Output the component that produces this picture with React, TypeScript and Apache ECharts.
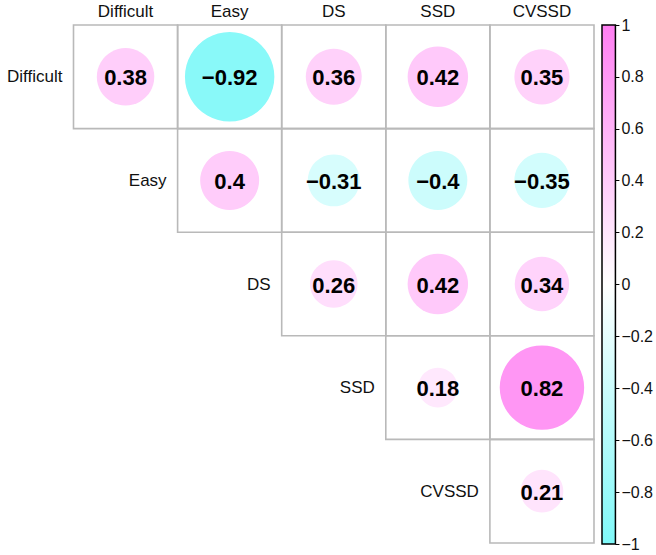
import React, { useEffect, useRef } from "react";
import * as echarts from "echarts";

const columns = ["Difficult", "Easy", "DS", "SSD", "CVSSD"];
const rows = ["Difficult", "Easy", "DS", "SSD", "CVSSD"];
// [column index, row index, correlation]
const corrValues: [number, number, number][] = [
  [0, 0, 0.38], [1, 0, -0.92], [2, 0, 0.36], [3, 0, 0.42], [4, 0, 0.35],
  [1, 1, 0.4], [2, 1, -0.31], [3, 1, -0.4], [4, 1, -0.35],
  [2, 2, 0.26], [3, 2, 0.42], [4, 2, 0.34],
  [3, 3, 0.18], [4, 3, 0.82],
  [4, 4, 0.21],
];
const colorStops = ["#7ff8f8", "#ffffff", "#ff7ff2"];
const legendRange = [-1, 1];

const FONT = "'Liberation Sans', Arial, Helvetica, sans-serif";
const fmt = (v: number) => {
  const r = Math.round(v * 100) / 100;
  return String(r).replace("-", "\u2212");
};

export default function App() {
  const ref = useRef<HTMLDivElement>(null);
  useEffect(() => {
    if (!ref.current) return;
    const chart = echarts.init(ref.current, null, { renderer: "svg" });
    const option: any = {
      animation: false,
      backgroundColor: "#ffffff",
      textStyle: { fontFamily: FONT },
      grid: [
        { left: 73.5, top: 25, width: 520.5, height: 518 },
        { left: 602, top: 25, width: 16, height: 519 },
      ],
      xAxis: [
        {
          type: "category",
          gridIndex: 0,
          data: columns,
          position: "top",
          axisLine: { show: false },
          axisTick: { show: false },
          splitLine: { show: false },
          axisLabel: { fontSize: 17, color: "#111", margin: 5, fontFamily: FONT, fontWeight: "normal" },
        },
        { type: "category", gridIndex: 1, data: ["bar"], show: false },
      ],
      yAxis: [
        {
          type: "category",
          gridIndex: 0,
          data: rows,
          inverse: true,
          show: false,
        },
        {
          type: "value",
          gridIndex: 1,
          min: legendRange[0],
          max: legendRange[1],
          interval: 0.2,
          position: "right",
          axisLine: { show: false },
          splitLine: { show: false },
          axisTick: { show: true, length: 4, lineStyle: { color: "#000", width: 1 } },
          axisLabel: {
            fontSize: 16,
            color: "#111",
            margin: 6,
            fontFamily: FONT,
            formatter: (v: number) => fmt(Math.round(v * 10) / 10),
          },
        },
      ],
      visualMap: {
        show: false,
        type: "continuous",
        min: legendRange[0],
        max: legendRange[1],
        dimension: 2,
        seriesIndex: 0,
        inRange: { color: colorStops },
      },
      series: [
        {
          type: "custom",
          xAxisIndex: 0,
          yAxisIndex: 0,
          data: corrValues,
          renderItem: (params: any, api: any) => {
            const col = api.value(0);
            const row = api.value(1);
            const v = api.value(2);
            const c = api.coord([col, row]);
            const s = api.size([1, 1]);
            const w = s[0];
            const h = s[1];
            const children: any[] = [
              {
                type: "rect",
                shape: { x: c[0] - w / 2, y: c[1] - h / 2, width: w, height: h },
                style: { fill: "transparent", stroke: "#b9b9b9", lineWidth: 1.6 },
              },
              {
                type: "circle",
                shape: { cx: c[0], cy: c[1], r: 0.45 * Math.sqrt(Math.abs(v)) * Math.min(w, h) },
                style: { fill: api.visual("color") },
              },
              {
                type: "text",
                style: {
                  text: fmt(v),
                  x: c[0],
                  y: c[1] + 1,
                  align: "center",
                  verticalAlign: "middle",
                  font: `bold 22px ${FONT}`,
                  fill: "#000",
                },
              },
            ];
            if (col === row) {
              children.push({
                type: "text",
                style: {
                  text: rows[row],
                  x: c[0] - w / 2 - 11,
                  y: c[1],
                  align: "right",
                  verticalAlign: "middle",
                  font: `17px ${FONT}`,
                  fill: "#111",
                },
              });
            }
            return { type: "group", children };
          },
        },
        {
          type: "custom",
          xAxisIndex: 1,
          yAxisIndex: 1,
          data: [[0, legendRange[0], legendRange[1]]],
          renderItem: (params: any, api: any) => {
            const bottom = api.coord([api.value(0), api.value(1)]);
            const top = api.coord([api.value(0), api.value(2)]);
            const w = api.size([1, 0])[0];
            return {
              type: "rect",
              shape: { x: top[0] - w / 2, y: top[1], width: w, height: bottom[1] - top[1] },
              style: {
                fill: new echarts.graphic.LinearGradient(0, 0, 0, 1, [
                  { offset: 0, color: colorStops[2] },
                  { offset: 0.5, color: colorStops[1] },
                  { offset: 1, color: colorStops[0] },
                ]),
                stroke: "#000",
                lineWidth: 1.5,
              },
            };
          },
        },
      ],
    };
    chart.setOption(option);
    return () => chart.dispose();
  }, []);
  return (
    <div
      ref={ref}
      style={{ position: "fixed", left: 0, top: 0, width: 656, height: 555 }}
    />
  );
}
